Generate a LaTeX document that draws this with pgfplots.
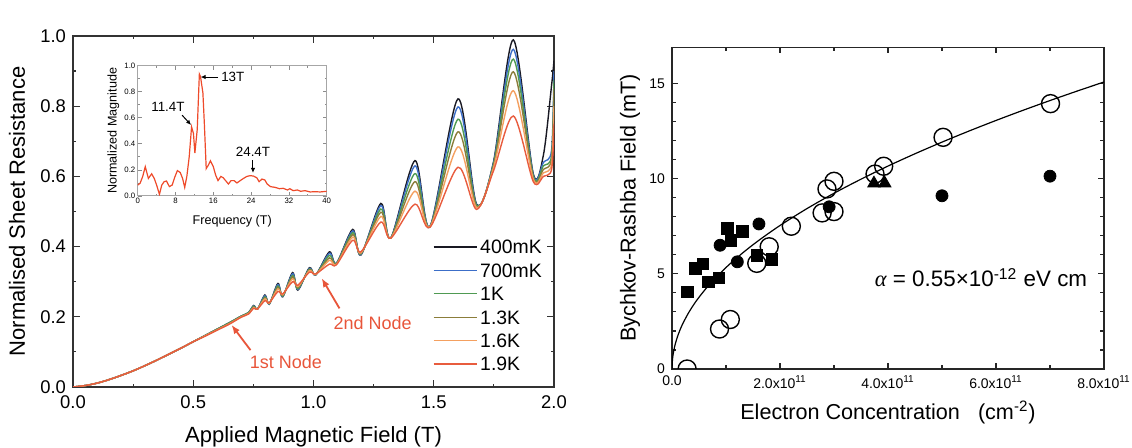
\documentclass[border=0pt]{standalone}
\usepackage{fontspec}
\setmainfont{Liberation Sans}
\newfontfamily\seriffont{Liberation Serif}
\usepackage{pgfplots}
\pgfplotsset{compat=1.18}
\usepackage{pgfplotstable}
\usetikzlibrary{arrows.meta}

\definecolor{cA}{RGB}{25,25,35}
\definecolor{cB}{RGB}{60,110,200}
\definecolor{cC}{RGB}{79,154,82}
\definecolor{cD}{RGB}{139,125,58}
\definecolor{cE}{RGB}{244,160,96}
\definecolor{cF}{RGB}{232,92,62}
\definecolor{cNode}{RGB}{232,85,58}
\definecolor{cIns}{RGB}{238,74,42}

\pgfplotstableread{
x a b c d e f
0.000 0.000 0.000 0.000 0.000 0.000 0.000
0.050 0.004 0.004 0.004 0.004 0.004 0.004
0.100 0.011 0.011 0.011 0.011 0.011 0.011
0.150 0.021 0.021 0.021 0.021 0.021 0.021
0.200 0.033 0.033 0.033 0.033 0.033 0.033
0.250 0.046 0.046 0.046 0.046 0.046 0.046
0.300 0.061 0.061 0.061 0.061 0.061 0.061
0.350 0.077 0.077 0.077 0.077 0.077 0.077
0.400 0.094 0.094 0.094 0.094 0.094 0.094
0.450 0.111 0.111 0.111 0.111 0.111 0.111
0.500 0.129 0.129 0.129 0.129 0.129 0.129
0.550 0.147 0.147 0.147 0.146 0.146 0.145
0.600 0.165 0.165 0.165 0.164 0.163 0.162
0.650 0.183 0.183 0.183 0.181 0.180 0.179
0.700 0.202 0.202 0.202 0.201 0.200 0.199
0.730 0.212 0.212 0.212 0.210 0.209 0.208
0.751 0.232 0.231 0.230 0.228 0.226 0.224
0.767 0.222 0.222 0.222 0.222 0.222 0.222
0.798 0.262 0.260 0.257 0.254 0.251 0.246
0.816 0.236 0.236 0.237 0.238 0.239 0.240
0.852 0.295 0.292 0.288 0.284 0.279 0.272
0.872 0.257 0.258 0.259 0.261 0.263 0.265
0.913 0.326 0.323 0.318 0.314 0.308 0.300
0.935 0.276 0.278 0.280 0.283 0.286 0.290
0.983 0.340 0.338 0.336 0.334 0.331 0.327
1.009 0.319 0.319 0.320 0.320 0.321 0.322
1.066 0.385 0.381 0.375 0.368 0.361 0.350
1.095 0.352 0.352 0.351 0.350 0.349 0.348
1.163 0.449 0.445 0.440 0.434 0.427 0.418
1.197 0.376 0.377 0.379 0.380 0.382 0.385
1.280 0.523 0.517 0.507 0.498 0.486 0.470
1.321 0.424 0.424 0.424 0.424 0.424 0.424
1.422 0.645 0.630 0.608 0.585 0.558 0.521
1.484 0.457 0.457 0.456 0.456 0.456 0.455
1.601 0.821 0.798 0.763 0.727 0.684 0.626
1.678 0.521 0.519 0.517 0.514 0.511 0.506
1.748 0.640 0.637 0.633 0.628 0.623 0.615
1.831 0.989 0.962 0.934 0.898 0.844 0.772
1.914 0.607 0.604 0.600 0.596 0.592 0.585
1.956 0.661 0.640 0.630 0.620 0.610 0.600
1.990 0.860 0.675 0.660 0.650 0.635 0.620
2.000 0.930 0.900 0.875 0.850 0.800 0.750
}\sdh

\pgfplotstableread{
x y
0 0.084
0.5 0.097
1.06 0.15
1.6 0.225
2.26 0.135
2.96 0.17
3.5 0.135
4.0 0.084
4.6 0.013
5.1 0.084
5.6 0.11
6.1 0.115
6.7 0.072
7.3 0.084
7.9 0.15
8.4 0.195
9.0 0.18
9.5 0.135
9.95 0.066
10.4 0.15
10.9 0.30
11.4 0.53
11.8 0.48
12.1 0.33
12.6 0.51
13.05 0.936
13.3 0.916
13.8 0.79
14.1 0.56
14.5 0.21
15.0 0.24
15.4 0.27
16.0 0.225
16.5 0.16
17.0 0.118
17.6 0.15
18.1 0.14
18.6 0.118
19.2 0.092
19.75 0.118
20.4 0.118
21.0 0.10
21.7 0.118
22.4 0.135
23.1 0.15
23.8 0.156
24.5 0.153
25.2 0.14
25.7 0.11
26.3 0.13
26.9 0.123
27.4 0.092
28.1 0.072
29.1 0.066
30.0 0.056
30.8 0.059
31.7 0.046
32.2 0.056
32.9 0.041
33.8 0.046
34.5 0.036
35.4 0.041
36.5 0.031
37.5 0.033
38.6 0.031
40 0.036
}\fft

\pgfplotstableread{
x y
0 0
0.01 0.533
0.03 0.923
0.06 1.306
0.1 1.686
0.15 2.064
0.2 2.384
0.3 2.919
0.4 3.371
0.5 3.769
0.7 4.459
1.0 5.330
1.3 6.077
1.6 6.742
2.0 7.538
2.5 8.427
3.0 9.232
3.5 9.971
4.0 10.660
4.5 11.307
5.0 11.918
5.5 12.500
6.0 13.056
6.5 13.589
7.0 14.102
7.5 14.597
8.0 15.076
}\fit

\pgfplotstableread{
x y
0.28 0.0
0.88 2.10
1.08 2.60
1.57 5.55
1.80 6.42
2.21 7.50
2.78 8.20
3.00 8.27
2.87 9.46
3.00 9.86
3.76 10.24
3.92 10.65
5.02 12.17
7.01 13.94
}\opencirc

\pgfplotstableread{
x y
0.28 4.05
0.43 5.28
0.57 5.53
0.67 4.58
0.87 4.78
1.03 7.37
1.09 6.74
1.30 7.23
1.57 5.96
1.85 5.77
}\squares

\pgfplotstableread{
x y
0.89 6.50
1.21 5.63
1.61 7.62
2.91 8.52
5.00 9.10
7.00 10.13
}\filledcirc

\pgfplotstableread{
x y
3.74 9.75
3.94 9.75
}\tri

\begin{document}
\begin{tikzpicture}
\useasboundingbox (0,0) rectangle (566pt,224pt);

% ---------------- left main axis
\begin{axis}[
  at={(36.5pt,30.5pt)}, anchor=south west,
  width=240.5pt, height=175.5pt, scale only axis,
  xmin=0, xmax=2, ymin=0, ymax=1,
  xtick={0,0.5,1,1.5,2}, minor xtick={0.25,0.75,1.25,1.75},
  ytick={0,0.2,0.4,0.6,0.8,1.0}, minor ytick={0.1,0.3,0.5,0.7,0.9},
  tick align=inside, major tick length=3.3pt, minor tick length=1.7pt,
  axis line style={line width=0.75pt, black!80},
  every tick/.style={line width=0.6pt, black!80},
  /pgf/number format/fixed, /pgf/number format/fixed zerofill,
  /pgf/number format/precision=1, /pgf/number format/assume math mode=true,
  ticklabel style={font=\fontsize{9.2}{10}\selectfont},
  xticklabel style={yshift=-1pt},
  xlabel={Applied Magnetic Field (T)},
  ylabel={Normalised Sheet Resistance},
  label style={font=\fontsize{11}{12}\selectfont},
  xlabel style={at={(axis description cs:0.5,-0.1425)}, anchor=center},
  ylabel style={at={(axis description cs:-0.1164,0.5)}, anchor=center},
  legend style={draw=none, fill=none, at={(0.735,0.44)}, anchor=north west,
    font=\fontsize{9.7}{11}\selectfont, row sep=1.7pt,
    nodes={inner sep=1.5pt, text height=7pt, text depth=0pt}},
  legend cell align=left,
  legend image code/.code={\draw[#1, line width=0.65pt] (0pt,0pt) -- (21.5pt,0pt);},
]
\addplot[cA, line width=0.7pt, smooth] table[x=x, y=a] {\sdh};
\addlegendentry{400mK}
\addplot[cB, line width=0.7pt, smooth] table[x=x, y=b] {\sdh};
\addlegendentry{700mK}
\addplot[cC, line width=0.7pt, smooth] table[x=x, y=c] {\sdh};
\addlegendentry{1K}
\addplot[cD, line width=0.7pt, smooth] table[x=x, y=d] {\sdh};
\addlegendentry{1.3K}
\addplot[cE, line width=0.7pt, smooth] table[x=x, y=e] {\sdh};
\addlegendentry{1.6K}
\addplot[cF, line width=0.7pt, smooth] table[x=x, y=f] {\sdh};
\addlegendentry{1.9K}
\node[text=cNode, font=\fontsize{9}{10}\selectfont] at (axis cs:0.885,0.072) {1st Node};
\node[text=cNode, font=\fontsize{9}{10}\selectfont] at (axis cs:1.246,0.183) {2nd Node};
\draw[cNode, line width=0.9pt, -{Latex[length=4.5pt,width=3.5pt]}] (axis cs:0.738,0.105) -- (axis cs:0.659,0.177);
\draw[cNode, line width=0.9pt, -{Latex[length=4.5pt,width=3.5pt]}] (axis cs:1.108,0.224) -- (axis cs:1.034,0.310);
\end{axis}

% ---------------- inset
\begin{axis}[
  at={(68.85pt,126pt)}, anchor=south west,
  width=94.5pt, height=65.15pt, scale only axis,
  xmin=0, xmax=40, ymin=0, ymax=1,
  xtick={0,8,16,24,32,40}, minor x tick num=1,
  ytick={0,0.2,0.4,0.6,0.8,1.0}, minor y tick num=1,
  tick align=inside, major tick length=2pt, minor tick length=1pt,
  axis line style={black!35, line width=0.5pt},
  every tick/.style={black!45, line width=0.4pt},
  /pgf/number format/assume math mode=true,
  ticklabel style={font=\fontsize{3.9}{4.5}\selectfont, inner sep=1pt},
  yticklabel style={/pgf/number format/fixed, /pgf/number format/fixed zerofill, /pgf/number format/precision=1},
  xlabel={Frequency (T)}, ylabel={Normalized Magnitude},
  label style={font=\fontsize{6.3}{7}\selectfont},
  xlabel style={at={(axis description cs:0.5,-0.192)}, anchor=center},
  ylabel style={at={(axis description cs:-0.129,0.5)}, anchor=center},
]
\addplot[cIns, line width=0.6pt] table[x=x, y=y] {\fft};
\node[font=\fontsize{6.7}{7}\selectfont, anchor=west, inner sep=0pt] at (axis cs:17.6,0.913) {13T};
\node[font=\fontsize{6.7}{7}\selectfont, inner sep=0pt] at (axis cs:6.4,0.683) {11.4T};
\node[font=\fontsize{6.7}{7}\selectfont, inner sep=0pt] at (axis cs:24.4,0.338) {24.4T};
\draw[black, line width=0.5pt, -{Latex[length=2.5pt,width=2.2pt]}] (axis cs:17.0,0.913) -- (axis cs:13.3,0.913);
\draw[black, line width=0.5pt, -{Latex[length=2.5pt,width=2.2pt]}] (axis cs:9.4,0.62) -- (axis cs:11.3,0.545);
\draw[black, line width=0.5pt, -{Latex[length=2.5pt,width=2.2pt]}] (axis cs:24.4,0.276) -- (axis cs:24.4,0.177);
\end{axis}

% ---------------- right panel
\begin{axis}[
  at={(336pt,39.5pt)}, anchor=south west,
  width=216pt, height=160.85pt, scale only axis,
  xmin=0, xmax=8, ymin=0, ymax=16.9,
  xtick={0,2,4,6,8},
  xticklabels={0.0, 2.0x10\textsuperscript{11}, 4.0x10\textsuperscript{11}, 6.0x10\textsuperscript{11}, 8.0x10\textsuperscript{11}},
  minor xtick={1,3,5,7},
  ytick={0,5,10,15}, minor y tick num=4,
  tick align=inside, major tick length=3pt, minor tick length=1.8pt,
  axis line style={line width=0.7pt, black!85},
  every tick/.style={line width=0.6pt, black!85},
  /pgf/number format/assume math mode=true,
  ticklabel style={font=\fontsize{7}{8}\selectfont},
  xlabel={Electron Concentration\ \ \ (cm\textsuperscript{-2})},
  ylabel={Bychkov-Rashba Field (mT)},
  label style={font=\fontsize{10.8}{12}\selectfont},
  xlabel style={at={(axis description cs:0.5,-0.1337)}, anchor=center},
  ylabel style={at={(axis description cs:-0.0972,0.5)}, anchor=center},
  clip marker paths=true,
]
\addplot[black, line width=0.6pt, smooth] table[x=x, y=y] {\fit};
\addplot[only marks, mark=o, mark size=4.5pt, mark options={line width=0.7pt, black, fill=white}] table[x=x, y=y] {\opencirc};
\addplot[only marks, mark=square*, mark size=2.9pt, mark options={black, fill=black}] table[x=x, y=y] {\squares};
\addplot[only marks, mark=*, mark size=3pt, mark options={black, fill=black}] table[x=x, y=y] {\filledcirc};
\addplot[only marks, mark=triangle*, mark size=3.6pt, mark options={black, fill=black}] table[x=x, y=y] {\tri};
\node[anchor=west, inner sep=0pt, font=\fontsize{11.2}{12}\selectfont] at (axis cs:3.75,4.8) {{\seriffont\itshape α} = 0.55×10\textsuperscript{-12} eV cm};
\end{axis}
\end{tikzpicture}
\end{document}
